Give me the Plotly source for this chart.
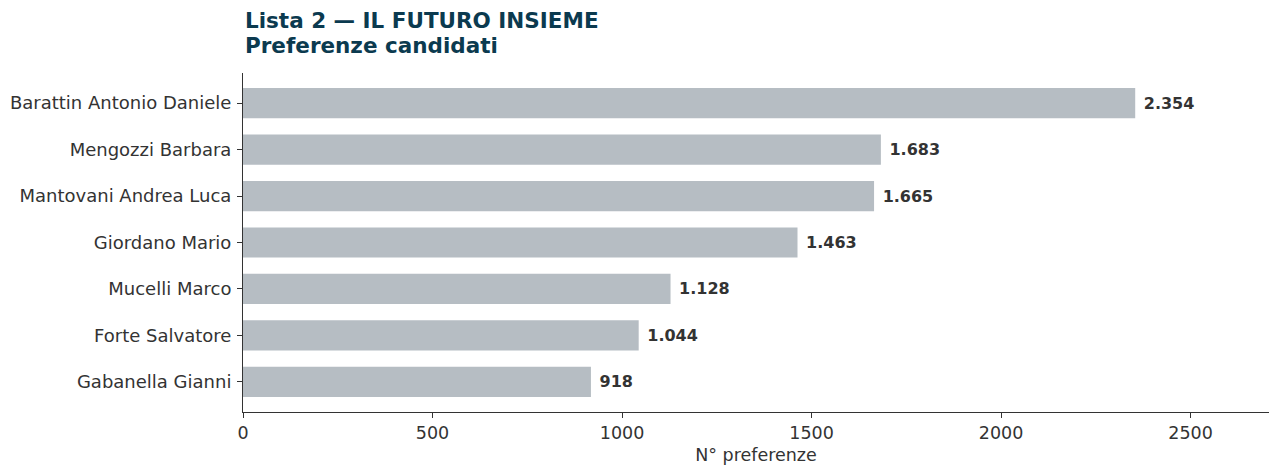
import plotly.graph_objects as go

candidati = ["Barattin Antonio Daniele", "Mengozzi Barbara", "Mantovani Andrea Luca",
             "Giordano Mario", "Mucelli Marco", "Forte Salvatore", "Gabanella Gianni"]
preferenze = [2354, 1683, 1665, 1463, 1128, 1044, 918]
etichette = ["2.354", "1.683", "1.665", "1.463", "1.128", "1.044", "918"]
tick_x = [0, 500, 1000, 1500, 2000, 2500]
titolo = ["Lista 2 — IL FUTURO INSIEME", "Preferenze candidati"]

FONT = "DejaVu Sans"
TXT = "#333333"
TITLE_C = "#0b3a4f"

fig = go.Figure(go.Bar(
    x=preferenze, y=candidati, orientation="h",
    marker=dict(color="#b6bdc3", line=dict(width=0)),
    width=0.65,
    text=["<b>\u00a0" + t + "</b>" for t in etichette],
    textposition="outside",
    textfont=dict(family=FONT, size=16, color=TXT),
    cliponaxis=False,
    hoverinfo="skip",
))

annotations = []
for i, line in enumerate(titolo):
    annotations.append(dict(
        text="<b>" + line + "</b>", xref="paper", yref="paper",
        x=0, y=1, xanchor="left", yanchor="bottom",
        yshift=38 - 25 * i, showarrow=False,
        font=dict(family=FONT, size=21.5, color=TITLE_C),
    ))

fig.update_layout(
    width=1271, height=472,
    margin=dict(l=243, r=2, t=73, b=60),
    paper_bgcolor="white", plot_bgcolor="white",
    font=dict(family=FONT, size=18, color=TXT),
    showlegend=False,
    annotations=annotations,
    xaxis=dict(
        range=[0, 2707], tickvals=tick_x, ticks="outside", ticklen=5,
        tickcolor=TXT, showline=True, linecolor=TXT, linewidth=1,
        showgrid=False, zeroline=False,
        tickfont=dict(family=FONT, size=17.5, color=TXT),
        title=dict(text="N° preferenze", font=dict(family=FONT, size=17.5, color=TXT), standoff=6),
    ),
    yaxis=dict(
        type="category", categoryorder="array", categoryarray=candidati,
        range=[6.65, -0.65], ticks="outside", ticklen=5, tickcolor=TXT,
        showline=True, linecolor=TXT, linewidth=1, showgrid=False,
        tickfont=dict(family=FONT, size=18, color=TXT),
        ticklabelstandoff=2,
    ),
)

fig.write_html("out.html", config={"displayModeBar": False},
               post_script="document.body.style.margin='0';")
